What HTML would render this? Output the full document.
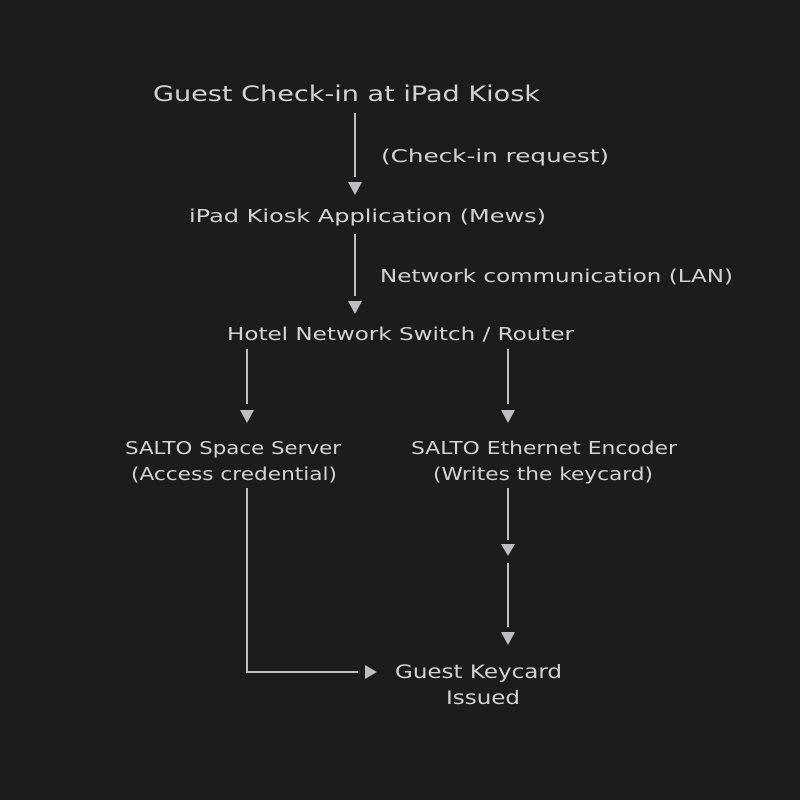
<!DOCTYPE html>
<html><head><style>
html,body{margin:0;padding:0;background:#1c1c1d;}
svg{display:block}
text{font-family:"DejaVu Sans","Liberation Sans",sans-serif;fill:#d2d2d6;}
</style></head><body>
<svg width="800" height="800" viewBox="0 0 800 800" xmlns="http://www.w3.org/2000/svg">
<rect width="800" height="800" fill="#1c1c1d"/>
<g stroke="#bdbdc2" stroke-width="2" fill="none">
<line x1="355" y1="113" x2="355" y2="177"/>
<line x1="355" y1="234" x2="355" y2="296"/>
<line x1="247" y1="349" x2="247" y2="404"/>
<line x1="508" y1="349" x2="508" y2="404"/>
<polyline points="247,488 247,672 358,672"/>
<line x1="508" y1="488" x2="508" y2="540"/>
<line x1="508" y1="563" x2="508" y2="627"/>
</g>
<g fill="#bdbdc2">
<polygon points="348,182 362,182 355,195"/>
<polygon points="348,301 362,301 355,314"/>
<polygon points="240,410 254,410 247,423"/>
<polygon points="501,410 515,410 508,423"/>
<polygon points="501,544 515,544 508,556"/>
<polygon points="501,632 515,632 508,645"/>
<polygon points="365,665 365,679 377,672"/>
</g>
<text x="153" y="101" font-size="21" textLength="387" lengthAdjust="spacingAndGlyphs">Guest Check-in at iPad Kiosk</text>
<text x="381" y="162" font-size="18" textLength="228" lengthAdjust="spacingAndGlyphs">(Check-in request)</text>
<text x="189" y="222" font-size="18" textLength="357" lengthAdjust="spacingAndGlyphs">iPad Kiosk Application (Mews)</text>
<text x="380" y="282" font-size="18" textLength="353" lengthAdjust="spacingAndGlyphs">Network communication (LAN)</text>
<text x="227" y="340" font-size="18" textLength="347" lengthAdjust="spacingAndGlyphs">Hotel Network Switch / Router</text>
<text x="125" y="454" font-size="18" textLength="216" lengthAdjust="spacingAndGlyphs">SALTO Space Server</text>
<text x="131" y="480" font-size="18" textLength="206" lengthAdjust="spacingAndGlyphs">(Access credential)</text>
<text x="411" y="454" font-size="18" textLength="266" lengthAdjust="spacingAndGlyphs">SALTO Ethernet Encoder</text>
<text x="433" y="480" font-size="18" textLength="220" lengthAdjust="spacingAndGlyphs">(Writes the keycard)</text>
<text x="395" y="678" font-size="19" textLength="167" lengthAdjust="spacingAndGlyphs">Guest Keycard</text>
<text x="446" y="704" font-size="19" textLength="74" lengthAdjust="spacingAndGlyphs">Issued</text>
</svg>
</body></html>
